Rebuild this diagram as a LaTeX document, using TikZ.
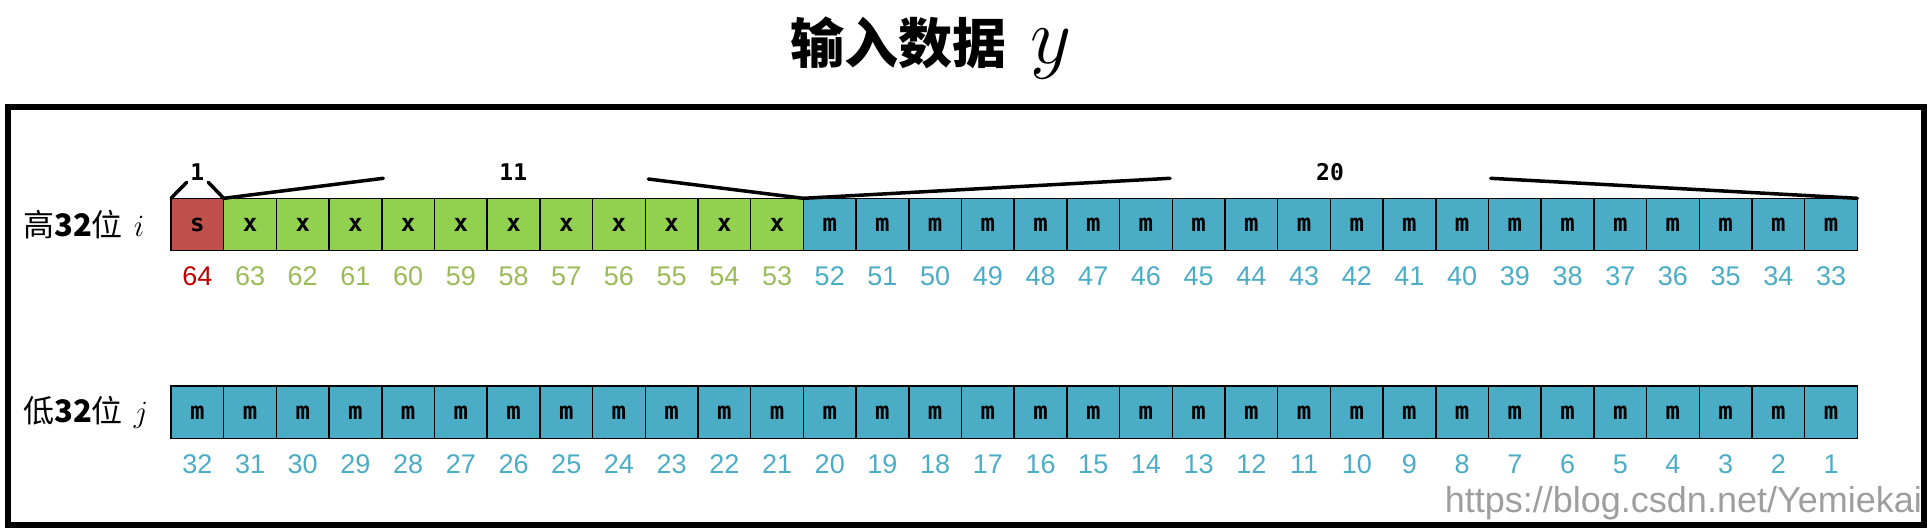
\RequirePackage{fix-cm}
\documentclass[tikz,border=0pt]{standalone}
\usepackage{fontspec}
\setmainfont{Liberation Sans}
\newfontfamily\cjk{Noto Sans CJK SC}
\newfontfamily\mono{DejaVu Sans Mono}
\definecolor{cred}{HTML}{C0504D}
\definecolor{cgreen}{HTML}{92D050}
\definecolor{cblue}{HTML}{4BACC6}
\definecolor{nred}{HTML}{C00000}
\definecolor{ngreen}{HTML}{9BBB59}
\definecolor{nblue}{HTML}{4BACC6}
\begin{document}
\begin{tikzpicture}[x=1pt,y=-1pt,
  cell/.style={draw=black,line width=1.5pt,minimum width=52.7pt,minimum height=52.4pt,inner sep=0pt,outer sep=0pt,font=\mono\bfseries\fontsize{24}{26}\selectfont},
  num/.style={inner sep=0pt,font=\fontsize{27}{30}\selectfont},
  brace/.style={line width=3.5pt,line cap=round},
  blab/.style={inner sep=0pt,font=\mono\bfseries\fontsize{23}{26}\selectfont},
  rowlab/.style={anchor=west,inner sep=0pt,font=\fontsize{31}{36}\selectfont}]
\useasboundingbox (0,0) rectangle (1930,528);
\draw[line width=6pt] (8,107) rectangle (1924,524.5);
% title
\node[anchor=west,inner sep=0pt] (title) at (790,48) {\fontsize{54}{60}\selectfont\cjk\bfseries 输入数据\hspace{0.45em}\fontsize{80}{90}\selectfont$y$};
% row labels
\node[rowlab] (hilab) at (23,225) {\cjk 高\textbf{32}\cjk 位\hspace{0.35em}$i$};
\node[rowlab] (lolab) at (23,412) {\cjk 低\textbf{32}\cjk 位\hspace{0.35em}$j$};
% cells
\foreach \k in {1,...,32}{
  \pgfmathtruncatemacro\hnum{65-\k}
  \pgfmathtruncatemacro\lnum{33-\k}
  \ifnum\k=1 \def\fc{cred}\def\tc{nred}\def\tx{s}\else\ifnum\k<13 \def\fc{cgreen}\def\tc{ngreen}\def\tx{x}\else\def\fc{cblue}\def\tc{nblue}\def\tx{m}\fi\fi
  \node[cell,fill=\fc] (h\k) at ({171+52.7*(\k-0.5)},224.5) {\tx};
  \node[num,text=\tc] (hn\k) at ({171+52.7*(\k-0.5)},276) {\hnum};
  \node[cell,fill=cblue] (l\k) at ({171+52.7*(\k-0.5)},412.3) {m};
  \node[num,text=nblue] (ln\k) at ({171+52.7*(\k-0.5)},464.5) {\lnum};
}
% braces
\coordinate (b1l) at (186.7,182.3);
\coordinate (b1r) at (208.3,182.3);
\draw[brace] (h1.north west) -- (b1l);
\draw[brace] (b1r) -- (h1.north east);
\node[blab] (t1) at (197.3,171.7) {1};
\coordinate (b11l) at (383.3,178.3);
\coordinate (b11r) at (648.3,179);
\draw[brace] (h2.north west) -- (b11l);
\draw[brace] (b11r) -- (h12.north east);
\node[blab] (t11) at (513.3,171.7) {11};
\coordinate (b20l) at (1170,178.3);
\coordinate (b20r) at (1490.7,178.3);
\draw[brace] (h13.north west) -- (b20l);
\draw[brace] (b20r) -- (h32.north east);
\node[blab] (t20) at (1330,171.7) {20};
% watermark
\node[anchor=east,inner sep=0pt,text=black!38,font=\fontsize{36}{40}\selectfont] (wm) at (1922,503) {https://blog.csdn.net/Yemiekai};
\end{tikzpicture}
\end{document}
